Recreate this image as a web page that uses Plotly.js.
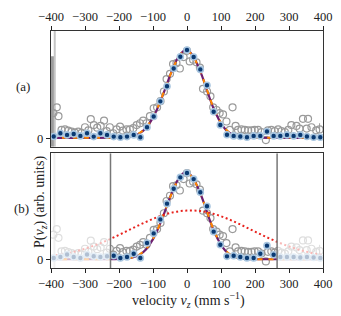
<!DOCTYPE html>
<html><head><meta charset="utf-8">
<script src="https://cdn.plot.ly/plotly-3.0.1.min.js"></script>
<style>html,body{margin:0;padding:0;background:#fff}#chart{width:341px;height:316px}</style>
</head><body><div id="chart"></div>
<script>
// ---- data ----
const xTicks = [-400,-300,-200,-100,0,100,200,300,400];

const dotX = [-392,-372.4,-352.8,-333.2,-313.6,-294,-274.4,-254.8,-235.2,-215.6,-196,-176.4,-156.8,-137.2,-117.6,-98,-78.4,-58.8,-39.2,-19.6,0,19.6,39.2,58.8,78.4,98,117.6,137.2,156.8,176.4,196,215.6,235.2,254.8,274.4,294,313.6,333.2,352.8,372.4,392];
const dotTopY = [0.02,0.057,0.038,0.049,0.027,0.057,0.019,0.057,0.038,0.019,0.011,0.019,0.038,0.011,0.125,0.247,0.418,0.59,0.79,0.924,1.0,0.92,0.78,0.60,0.30,0.15,0.04,0.027,0.02,0.011,0.027,0.027,0.076,0.027,0.027,0.038,0.027,0.038,0.02,0.011,0.011];
const dotBotY = [0.02,0.03,0.06,0.03,0.02,0.06,0.04,0.03,0.04,0.045,0.019,0.03,0.068,0.019,0.19,0.30,0.46,0.64,0.81,0.94,0.99,0.92,0.77,0.61,0.32,0.17,0.038,0.045,0.03,0.019,0.019,0.068,0.16,0.057,0.03,0.03,0.03,0.025,0.03,0.025,0.02];

const openX = [-393,-383,-378,-369,-359,-349,-339,-330,-320,-310,-300,-290,-283,-274,-264,-254,-244,-236,-227,-217,-207,-197,-189,-178,-168,-158,-148,-138,-129,-119,-109,-98,-88,-78,-68,-60,-50,-41,-31,-21,-10,0,8,18,28,38,47,59,69,77,87,96,106,116,126,134,143,150,160,170,180,190,199,209,219,232,238,248,258,268,278,288,298,307,322,331,341,352,356,366,380,390];
const openY = [0.285,0.35,0.25,0.095,0.10,0.087,0.076,0.065,0.076,0.06,0.125,0.09,0.217,0.15,0.12,0.14,0.2,0.08,0.125,0.057,0.10,0.133,0.087,0.10,0.10,0.114,0.15,0.17,0.2,0.17,0.25,0.34,0.35,0.42,0.53,0.67,0.73,0.84,0.85,0.79,0.92,0.99,0.87,0.89,0.86,0.80,0.56,0.53,0.475,0.35,0.32,0.285,0.27,0.19,0.095,0.35,0.14,0.095,0.10,0.095,0.09,0.09,0.095,0.095,0.07,-0.02,0.09,0.095,0.08,0.10,0.08,0.07,0.095,0.15,0.14,0.11,0.22,0.11,0.22,0.125,0.09,0.10];
const openErr = openX.map((x,i)=> i===openX.length-1 ? 0.07 : 0);

const fitX = [-400,-300,-200,-160,-140,-120,-100,-90,-80,-70,-60,-50,-40,-30,-20,-10,0,10,20,30,40,50,60,70,80,90,100,120,140,160,200,300,400];
const fitPurpleY = [0.005,0.005,0.01,0.025,0.055,0.12,0.235,0.31,0.40,0.50,0.605,0.71,0.805,0.89,0.95,0.99,0.995,0.97,0.92,0.84,0.75,0.645,0.53,0.42,0.32,0.24,0.17,0.075,0.03,0.012,0.006,0.005,0.005];
const fitOrangeY = [0.005,0.005,0.01,0.027,0.058,0.125,0.24,0.315,0.405,0.505,0.61,0.71,0.80,0.885,0.945,0.985,0.99,0.965,0.915,0.84,0.75,0.645,0.535,0.425,0.325,0.245,0.175,0.08,0.032,0.013,0.006,0.005,0.005];

const redX = [-400,-360,-320,-280,-240,-200,-160,-120,-80,-40,0,40,80,120,160,200,240,280,320,360,400];
const redY = [0.041,0.067,0.103,0.152,0.212,0.283,0.359,0.432,0.496,0.542,0.561,0.555,0.521,0.466,0.396,0.320,0.247,0.18,0.126,0.083,0.052];

const cutLow = -225, cutHigh = 265;

// ---- styles ----
const FONT = 'Liberation Serif';
const navy = '#0a3a73', halo = '#a9c6e0', grey = '#9a9a9a', purple = '#6e1f6e', orange = '#ff8800';

function panel(xa, ya, dotsY, withRed){
  const t = [];
  t.push({x:openX, y:openY, xaxis:xa, yaxis:ya, mode:'markers', type:'scatter',
    marker:{symbol:'circle-open', size:7, color:grey, line:{width:1.2, color:grey}},
    error_y:{type:'data', array:openErr, visible:true, thickness:1, width:0, color:grey, symmetric:false, arrayminus:openErr.map(()=>0)},
    hoverinfo:'skip'});
  t.push({x:fitX, y:fitPurpleY, xaxis:xa, yaxis:ya, mode:'lines', line:{color:purple, width:2.2, shape:'spline'}, hoverinfo:'skip'});
  t.push({x:fitX, y:fitOrangeY, xaxis:xa, yaxis:ya, mode:'lines', line:{color:orange, width:2, dash:'5px,6px', shape:'spline'}, hoverinfo:'skip'});
  if(withRed){
    t.push({x:redX, y:redY, xaxis:xa, yaxis:ya, mode:'lines', line:{color:'#e8231e', width:2, dash:'2px,2.6px', shape:'spline'}, hoverinfo:'skip'});
  }
  t.push({x:dotX, y:dotsY, xaxis:xa, yaxis:ya, mode:'markers',
    marker:{symbol:'circle', size:6, color:navy, line:{width:1.6, color:halo}}, hoverinfo:'skip'});
  return t;
}

const data = [...panel('x','y',dotTopY,false), ...panel('x2','y2',dotBotY,true)];

const yr = [-0.095, 1.215];
const axBase = {range:[-400,400], tickvals:xTicks, ticks:'outside', ticklen:4, tickwidth:1, tickcolor:'#222',
  showline:true, linecolor:'#333', linewidth:1.3, mirror:true, showgrid:false, zeroline:false, automargin:false,
  tickfont:{family:FONT, size:12.5, color:'#222'}};
const yBase = {range:yr, tickvals:[0], ticktext:['0'], ticks:'outside', ticklen:4, tickcolor:'#222',
  showline:true, linecolor:'#333', linewidth:1.3, mirror:true, showgrid:false, zeroline:false, automargin:false,
  tickfont:{family:FONT, size:12.5, color:'#222'}};

const lab = {family:FONT, size:14, color:'#222'};
const layout = {
  width:341, height:316, margin:{l:51, r:18, t:31, b:48, autoexpand:false},
  paper_bgcolor:'#fff', plot_bgcolor:'#fff', showlegend:false,
  font:{family:FONT, color:'#222'},
  xaxis:Object.assign({}, axBase, {anchor:'y', side:'top'}),
  yaxis:Object.assign({}, yBase, {domain:[0.512,1], anchor:'x'}),
  xaxis2:Object.assign({}, axBase, {anchor:'y2', side:'bottom'}),
  yaxis2:Object.assign({}, yBase, {domain:[0,0.484], anchor:'x2'}),
  shapes:[
    {type:'rect', xref:'x', yref:'y', x0:-400, x1:-391, y0:yr[0], y1:0.93, fillcolor:'#9c9c9c', line:{width:0}, layer:'below'},
    {type:'line', xref:'x', yref:'y', x0:-389, x1:-389, y0:yr[0], y1:yr[1], line:{color:'#c4c4c4', width:2}, layer:'below'},
    {type:'line', xref:'x2', yref:'y2', x0:-390, x1:-390, y0:yr[0], y1:yr[1], line:{color:'#d0d0d0', width:2}, layer:'below'},
    {type:'rect', xref:'x2', yref:'y2', x0:-400, x1:cutLow, y0:yr[0], y1:yr[1], fillcolor:'rgba(255,255,255,0.68)', line:{width:0}, layer:'above'},
    {type:'rect', xref:'x2', yref:'y2', x0:cutHigh, x1:400, y0:yr[0], y1:yr[1], fillcolor:'rgba(255,255,255,0.68)', line:{width:0}, layer:'above'},
    {type:'line', xref:'x2', yref:'y2', x0:cutLow, x1:cutLow, y0:yr[0], y1:yr[1], line:{color:'#777', width:1.5}, layer:'above'},
    {type:'line', xref:'x2', yref:'y2', x0:cutHigh, x1:cutHigh, y0:yr[0], y1:yr[1], line:{color:'#777', width:1.5}, layer:'above'}
  ],
  annotations:[
    {text:'(a)', xref:'paper', yref:'paper', x:0, y:1, xshift:-28, yshift:-55, xanchor:'center', yanchor:'middle', showarrow:false, font:{family:FONT, size:13, color:'#222'}},
    {text:'(b)', xref:'paper', yref:'paper', x:0, y:0, xshift:-30, yshift:60, xanchor:'center', yanchor:'middle', showarrow:false, font:{family:FONT, size:13, color:'#222'}},
    {text:'P(<i>v</i><sub><i>z</i></sub>) (arb. units)', xref:'paper', yref:'paper', x:0, y:0, xshift:-11, yshift:66, xanchor:'center', yanchor:'middle', textangle:-90, showarrow:false, font:lab},
    {text:'velocity <i>v</i><sub><i>z</i></sub> (mm s<sup>−1</sup>)', xref:'paper', yref:'paper', x:0.5, y:0, xshift:1, yshift:-32, xanchor:'center', yanchor:'middle', showarrow:false, font:lab}
  ]
};

Plotly.newPlot('chart', data, layout, {displayModeBar:false, staticPlot:true});
</script></body></html>
